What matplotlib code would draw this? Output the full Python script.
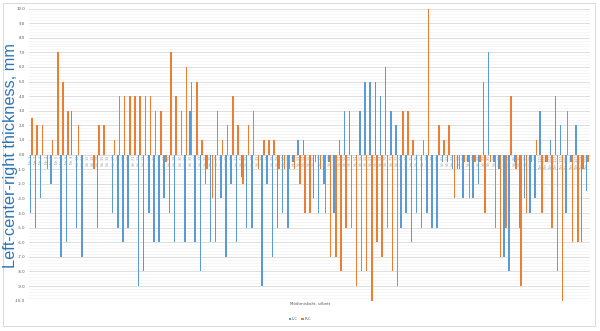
import matplotlib
matplotlib.use("Agg")
import matplotlib.pyplot as plt
from matplotlib.ticker import MultipleLocator, FormatStrFormatter
from matplotlib.patches import Rectangle
import numpy as np

# Measurement points along the profile
categories = [f"Nr. {i}" for i in range(1, 110)]

# Left - centre difference, mm
lc = [-4, -5, -3, 0, -2, 0, -7, -6, 3, -5,
      -7, 0, 0, -5, 0, 0, -4, -5, -6, -5,
      0, -9, -8, -4, -6, -6, -3, -4, -6, 0,
      -6, 3, -6, -8, -2, -6, -6, -3, -7, -2,
      -6, -1.5, -5, -5, 0, -9, -2, -7, -5, -4,
      -5, -0.5, 1, 1, 0, -3, -4, -2, -0.5, -4,
      1, 3, 3, 0, 3, 5, 5, 5, 4, 6,
      3, 2, -5, -4, -6, -4, -5, -4, -5, -5,
      -0.5, -0.5, -1, -1, -3, -0.5, -3, -2, 5, 7,
      -0.5, -1, -7, -8, -0.5, -5, -3, -4, -3, 3,
      -0.5, 1, 4, 2, -4, -0.5, 2, -6, -2.5]

# Right - centre difference, mm
rc = [2.5, 2, 2, -1, 1, 7, 5, 3, 0, 2,
      0, 0, -1, 2, 2, 0, 1, 4, 4, 4,
      4, 4, 4, 4, 3, 3, -0.5, 7, 4, 3,
      6, 5, 5, 1, -1, -3, 3, 1, 2, 4,
      2, -2, 2, 3, -1, 1, 1, 1, -1, -1,
      -1, -1, -2, -4, -4, -0.5, -1, -4, -7, -7,
      -8, -5, -5, -9, -8, -8, -10, -6, -7, -5,
      -8, -9, 3, 3, 1, 0, 1, 10, 0, 2,
      1, 2, -3, -1, -0.5, -3, -0.5, -0.5, -4, -0.5,
      -5, -7, -5, 4, -1, -9, -4, -0.5, 1, -4,
      -0.5, -5, -8, -10, 3, -6, -6, -1, -0.5]

series_names = ["L-C", "R-C"]
colors = ["#5B9BD5", "#ED7D31"]

fig = plt.figure(figsize=(6.0, 3.31), dpi=100)
ax = fig.add_axes([28.6 / 600, 1 - 300.7 / 331, (589.9 - 28.6) / 600, (300.7 - 8.5) / 331])

x = np.arange(len(categories))
w = 0.29
off = 0.165
ax.bar(x - off, lc, width=w, color=colors[0], label=series_names[0], zorder=3)
ax.bar(x + off, rc, width=w, color=colors[1], label=series_names[1], zorder=3)

ax.set_xlim(-0.5, len(categories) - 0.5)
ax.set_ylim(-10, 10)
ax.yaxis.set_major_locator(MultipleLocator(1))
ax.yaxis.set_minor_locator(MultipleLocator(0.2))
ax.yaxis.set_major_formatter(FormatStrFormatter("%.1f"))
ax.grid(axis="y", which="major", color="#d9d9d9", linewidth=0.6, zorder=0)
ax.grid(axis="y", which="minor", color="#f0f0f0", linewidth=0.4, zorder=0)
ax.tick_params(axis="y", which="both", length=0, labelsize=2.8, labelcolor="#595959", pad=2.5)

for s in ["top", "right", "left"]:
    ax.spines[s].set_visible(False)
ax.spines["bottom"].set_position(("data", 0))
ax.spines["bottom"].set_color("#d9d9d9")
ax.spines["bottom"].set_linewidth(0.6)
ax.spines["bottom"].set_zorder(2)
ax.set_xticks(x)
ax.set_xticklabels(categories, rotation=90, fontsize=2.4, color="#8c8c8c")
ax.tick_params(axis="x", length=0, pad=1)
for lbl in ax.get_xticklabels():
    lbl.set_zorder(4)

fig.text(11.0 / 600, 1 - 155 / 331, "Left-center-right thickness, mm",
         rotation=90, ha="center", va="center", fontsize=11.8,
         family="Liberation Sans", color="#2E75B6")
fig.text(310 / 600, 1 - 304 / 331, "Mõõtmiskoht, silbett", ha="center", va="center",
         fontsize=2.8, color="#595959")

fig.legend(loc="center", bbox_to_anchor=(300 / 600, 1 - 319.3 / 331), ncol=2,
           frameon=False, fontsize=2.8, handlelength=0.6, handleheight=0.6,
           handletextpad=0.3, columnspacing=0.8, labelcolor="#595959")

fig.patches.append(Rectangle((3 / 600, 1 - 326 / 331), 592 / 600, 323 / 331,
                             transform=fig.transFigure, fill=False,
                             edgecolor="#d9d9d9", linewidth=0.7))

fig.savefig("out.png", dpi=100)
